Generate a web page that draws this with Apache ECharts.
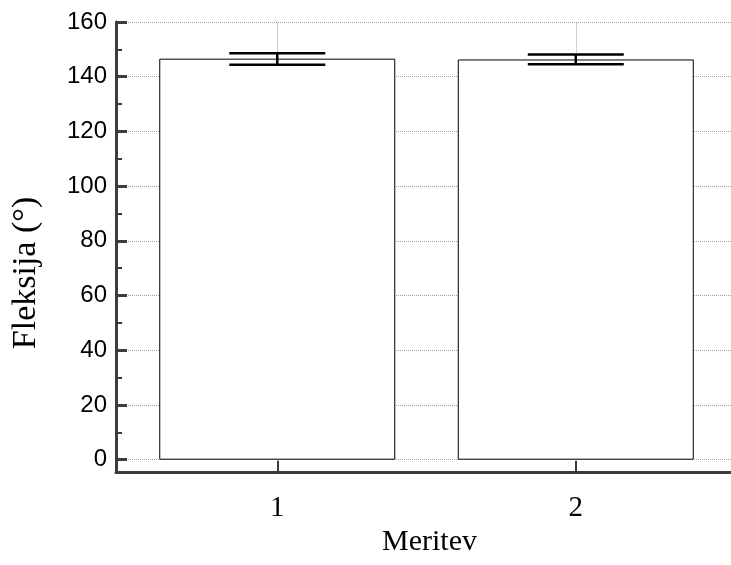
<!DOCTYPE html>
<html><head><meta charset="utf-8">
<script src="https://cdn.jsdelivr.net/npm/echarts@6/dist/echarts.min.js"></script>
<style>html,body{margin:0;padding:0;background:#fff}#c{width:731px;height:565px}</style>
</head><body><div id="c"></div>
<script>
const categories = [1, 2];
const categoryLabels = ['1', '2'];
const means = [146.6, 146.3];
const lower = [144.4, 144.6];
const upper = [148.6, 148.1];
const yMin = 0, yMax = 160, yStep = 20;
const xTitle = 'Meritev';
const yTitle = 'Fleksija (°)';

const axisColor = '#3c3c3c';
const gridColor = '#a0a0a0';
const serif = '"Liberation Serif", "Times New Roman", serif';
const sans = '"Liberation Sans", Arial, sans-serif';

const chart = echarts.init(document.getElementById('c'), null, {renderer: 'canvas'});
chart.setOption({
  animation: false,
  backgroundColor: '#fff',
  grid: [
    {left: 128, right: 0, top: 22, bottom: 105.3, containLabel: false},
    {left: 116, right: 0, top: 22, bottom: 93, containLabel: false}
  ],
  xAxis: [{
    gridIndex: 0, type: 'value', min: 0.5, max: 2.52,
    name: xTitle, nameLocation: 'middle', nameGap: 55,
    nameTextStyle: {fontFamily: serif, fontSize: 30, color: '#000'},
    offset: 12,
    axisLine: {show: true, onZero: false, lineStyle: {color: axisColor, width: 3, opacity: 0}},
    axisTick: {show: true, inside: true, length: 11, customValues: categories, lineStyle: {color: axisColor, width: 2}},
    axisLabel: {show: true, customValues: categories, margin: 22, fontFamily: serif, fontSize: 29, color: '#000',
      formatter: v => categoryLabels[categories.indexOf(v)] ?? ''},
    splitLine: {show: false}
  }, {
    gridIndex: 1, type: 'value', min: 0, max: 1,
    axisLine: {show: true, onZero: false, lineStyle: {color: axisColor, width: 3}},
    axisTick: {show: false}, axisLabel: {show: false}, splitLine: {show: false}
  }],
  yAxis: [{
    gridIndex: 0, type: 'value', min: yMin, max: yMax, interval: yStep,
    offset: 12,
    axisLine: {show: true, onZero: false, lineStyle: {color: axisColor, width: 3, opacity: 0}},
    axisTick: {show: true, inside: true, length: 11, lineStyle: {color: axisColor, width: 3}},
    minorTick: {show: true, splitNumber: 2, length: 6, lineStyle: {color: axisColor, width: 2}},
    axisLabel: {margin: 9, fontFamily: sans, fontSize: 24, color: '#000'},
    splitLine: {show: true, lineStyle: {type: 'dotted', color: gridColor, width: 1}}
  }, {
    gridIndex: 1, type: 'value', min: 0, max: 1,
    axisLine: {show: true, onZero: false, lineStyle: {color: axisColor, width: 3}},
    axisTick: {show: false}, axisLabel: {show: false}, splitLine: {show: false}
  }],
  graphic: [{
    type: 'text', x: 26, y: 273, rotation: Math.PI / 2,
    style: {text: yTitle, font: '34px ' + serif, fill: '#000', align: 'center', verticalAlign: 'middle'}
  }],
  series: [
    {
      type: 'bar', xAxisIndex: 0, yAxisIndex: 0, barWidth: 236, z: 2,
      data: categories.map((c, i) => [c, means[i]]),
      itemStyle: {color: '#fff', borderColor: '#000', borderWidth: 1},
      markLine: {
        silent: true, z: 1, symbol: 'none', label: {show: false},
        lineStyle: {type: 'dotted', color: gridColor, width: 1},
        emphasis: {disabled: true},
        data: categories.map(c => ({xAxis: c}))
      }
    },
    {
      type: 'custom', xAxisIndex: 0, yAxisIndex: 0, z: 3,
      data: categories.map((c, i) => [c, lower[i], upper[i]]),
      encode: {x: 0, y: [1, 2]},
      renderItem: (params, api) => {
        const x = api.value(0);
        const pLo = api.coord([x, api.value(1)]);
        const pHi = api.coord([x, api.value(2)]);
        const hw = 48;
        const st = {stroke: '#000', lineWidth: 2.5};
        return {type: 'group', children: [
          {type: 'line', shape: {x1: pHi[0] - hw, y1: pHi[1], x2: pHi[0] + hw, y2: pHi[1]}, style: st},
          {type: 'line', shape: {x1: pLo[0] - hw, y1: pLo[1], x2: pLo[0] + hw, y2: pLo[1]}, style: st},
          {type: 'line', shape: {x1: pHi[0], y1: pHi[1], x2: pLo[0], y2: pLo[1]}, style: st}
        ]};
      }
    }
  ]
});
</script>
</body></html>
